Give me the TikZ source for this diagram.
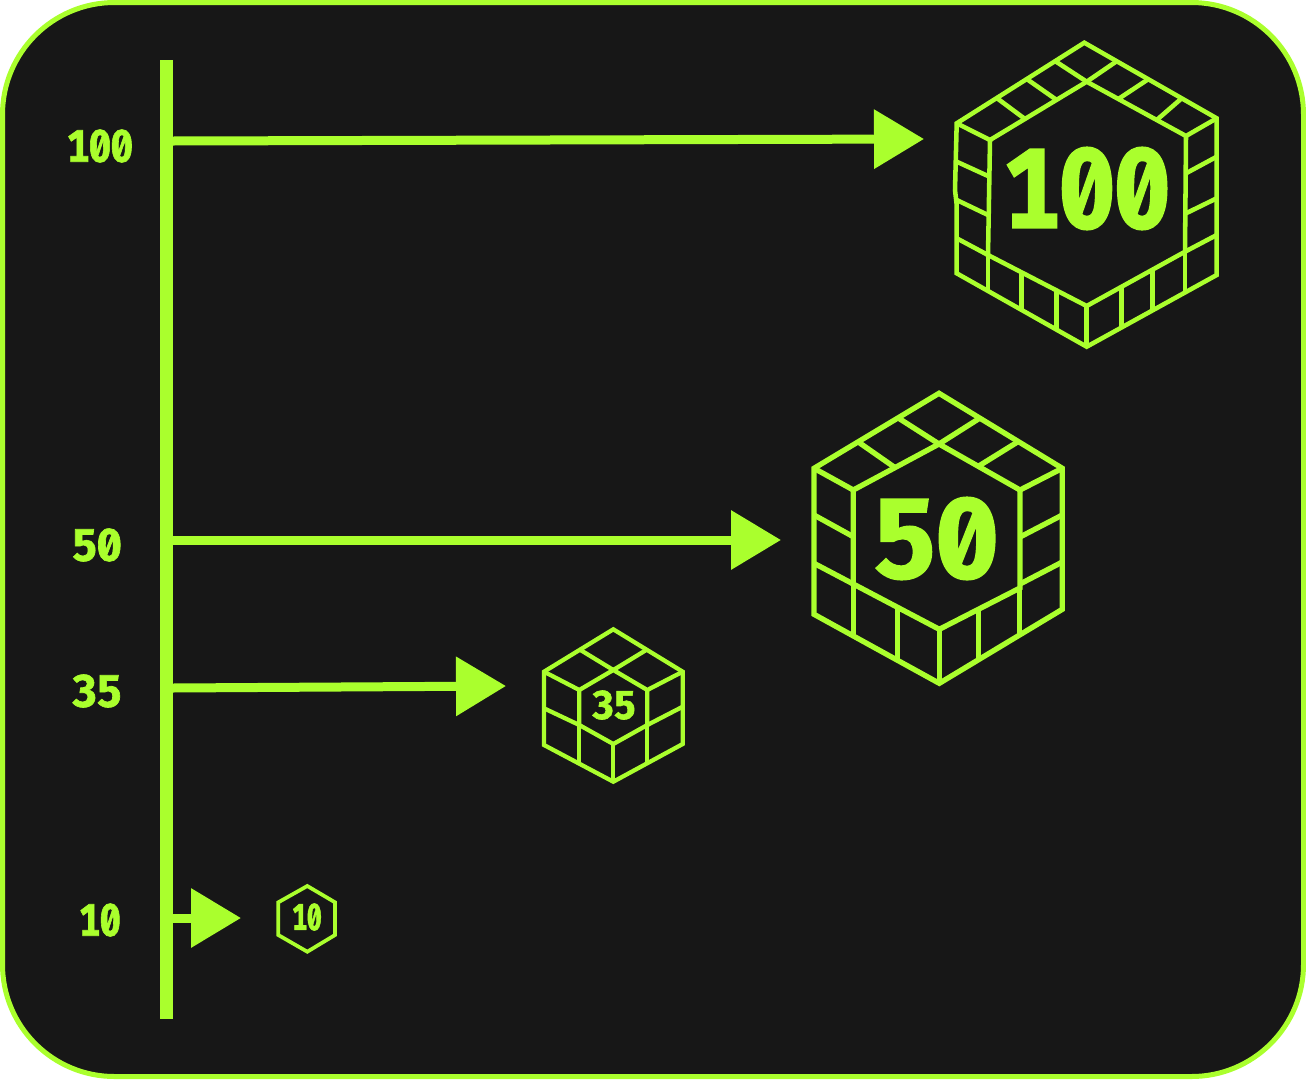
\documentclass[tikz,border=0pt]{standalone}
\usepackage{fontspec}
\usetikzlibrary{arrows.meta}
\newfontfamily\digitfont{Fira Sans}[Numbers={SlashedZero,Monospaced,Lining},BoldFeatures={FakeBold=1.5}]
\definecolor{limeline}{RGB}{170,255,45}
\definecolor{darkpanel}{RGB}{23,23,23}
\tikzset{
  every picture/.style={line width=0.75pt},
  cubeline/.style={draw=limeline,line width=3.4pt,line join=miter},
  pointer/.style={draw=limeline,line width=6.75pt,-{Triangle[length=37.5pt,width=43pt,fill=limeline]}},
  digits/.style={text=limeline,inner sep=0pt,font=\digitfont\bfseries\fontsize{#1}{#1}\selectfont},
}

\begin{document}
\begin{tikzpicture}[x=0.75pt,y=0.75pt,yscale=-1,xscale=1]
\useasboundingbox (0,0) rectangle (1306,1079);

%Panel
\draw [draw=limeline,fill=darkpanel,line width=3.75pt,rounded corners=84pt] (2.5,2.5) rectangle (1303.5,1076.5);
%Axis
\draw [draw=limeline,line width=9.5pt] (166.5,60) -- (166.5,1019);

% Arrow ends
\coordinate (tick100) at (172,141);
\coordinate (tip100) at (924,139);
\coordinate (tick50) at (172,540);
\coordinate (tip50) at (781,540);
\coordinate (tick35) at (172,688);
\coordinate (tip35) at (506,686);
\coordinate (tick10) at (172,918);
\coordinate (tip10) at (241,918);

%Straight Lines
\draw [pointer] (tick100) -- (tip100);
\draw [pointer] (tick50) -- (tip50);
\draw [pointer] (tick35) -- (tip35);
\draw [pointer] (tick10) -- (tip10);

% Text Node
\node (axis100) [digits=34,xscale=0.86] at (100,146) {100};
\node (axis50) [digits=34,xscale=0.97] at (97,545) {50};
\node (axis35) [digits=34,xscale=0.97] at (97,691) {35};
\node (axis10) [digits=34,xscale=0.81] at (100,920) {10};

%Cube 100
\draw [cubeline] (1084.3,42.7) -- (1216.7,118.3) -- (1216.7,275) -- (1086.7,346.7) -- (956.7,273.3) -- (956.7,205) -- (955,190) -- (956.7,123.3) -- cycle;
\draw [cubeline] (956.7,123.3) -- (990,140) -- (1086.7,81.7) -- (1186,136) -- (1216.7,118.3);
\draw [cubeline] (990,140) -- (988,255) -- (1086.7,306) -- (1185,251.7) -- (1186,136);
\draw [cubeline] (1086.7,306) -- (1086.7,346.7);
\draw [cubeline] (996.7,98) -- (1025,119);
\draw [cubeline] (1026.7,79) -- (1056.7,100);
\draw [cubeline] (1055,61) -- (1086.7,81.7);
\draw [cubeline] (1116.7,61.2) -- (1086.7,81.7);
\draw [cubeline] (1148.3,79.2) -- (1118.3,99);
\draw [cubeline] (1181.7,98.3) -- (1156.7,120);
\draw [cubeline] (956.7,161.7) -- (988,176);
\draw [cubeline] (956.7,200) -- (988,215);
\draw [cubeline] (956.7,238.3) -- (988,255);
\draw [cubeline] (1186,173.3) -- (1216.7,156.7);
\draw [cubeline] (1186,213.3) -- (1216.7,198.3);
\draw [cubeline] (1185,251.7) -- (1216.7,235);
\draw [cubeline] (988,255) -- (988,290.8);
\draw [cubeline] (1021.7,272.5) -- (1021.7,310);
\draw [cubeline] (1056.7,291) -- (1056.7,329.8);
\draw [cubeline] (1121.7,287) -- (1121.7,327.4);
\draw [cubeline] (1152.7,269.5) -- (1152.7,310);
\draw [cubeline] (1185,251.7) -- (1185,292);
\node (value100) [digits=85,xscale=0.87] at (1087,188.5) {100};

%Cube 50
\draw [cubeline,line width=4pt] (939,393.3) -- (1062.3,468.3) -- (1062.3,609.3) -- (939.3,683.3) -- (814,614.3) -- (814,468.3) -- cycle;
\draw [cubeline,line width=4pt] (814,468.3) -- (853.3,490) -- (939,444) -- (1020,490) -- (1062.3,468.3);
\draw [cubeline,line width=4pt] (853.3,490) -- (853.3,584) -- (939.3,629.3) -- (1020,588) -- (1020,490);
\draw [cubeline,line width=4pt] (939.3,629.3) -- (939.3,683.3);
\draw [cubeline,line width=4pt] (858.3,442) -- (895,467.6);
\draw [cubeline,line width=4pt] (898.3,418) -- (939,444);
\draw [cubeline,line width=4pt] (980,418) -- (939,444);
\draw [cubeline,line width=4pt] (1018.3,441.5) -- (978.3,466.3);
\draw [cubeline,line width=4pt] (814,515) -- (853.3,536.7);
\draw [cubeline,line width=4pt] (814,563.3) -- (853.3,584);
\draw [cubeline,line width=4pt] (1020,537) -- (1062.3,515);
\draw [cubeline,line width=4pt] (1020,584) -- (1062.3,562);
\draw [cubeline,line width=4pt] (853.3,584) -- (853.3,636);
\draw [cubeline,line width=4pt] (897.3,607) -- (897.3,660);
\draw [cubeline,line width=4pt] (978.3,609.6) -- (978.3,660);
\draw [cubeline,line width=4pt] (1019.3,588) -- (1019.3,635);
\node (value50) [digits=85,xscale=0.98] at (936,538.5) {50};

%Cube 35
\draw [cubeline,line width=3.2pt] (613.3,629.3) -- (682.7,671.7) -- (682.7,744) -- (613.3,781.7) -- (544,745) -- (544,671.7) -- cycle;
\draw [cubeline,line width=3.2pt] (544,671.7) -- (579.3,690) -- (613.3,670) -- (647.3,690) -- (682.7,671.7);
\draw [cubeline,line width=3.2pt] (579.3,690) -- (579.3,725) -- (613.3,744) -- (647.3,725) -- (647.3,690);
\draw [cubeline,line width=3.2pt] (613.3,744) -- (613.3,781.7);
\draw [cubeline,line width=3.2pt] (580,649.7) -- (613.3,670);
\draw [cubeline,line width=3.2pt] (646.7,649.7) -- (613.3,670);
\draw [cubeline,line width=3.2pt] (544,708.3) -- (579.3,725);
\draw [cubeline,line width=3.2pt] (647.3,725) -- (682.7,706.7);
\draw [cubeline,line width=3.2pt] (579.3,725) -- (579.3,763.7);
\draw [cubeline,line width=3.2pt] (647.3,725) -- (647.3,763);
\node (value35) [digits=30,xscale=0.97] at (614,705) {35};

%Hexagon 10
\draw [cubeline,line width=2.8pt] (307.3,886) -- (335,902.3) -- (335,935) -- (307.3,951.7) -- (278.3,935) -- (278.3,902.3) -- cycle;
\node (value10) [digits=28,xscale=0.7] at (307,917) {10};
\end{tikzpicture}
\end{document}
